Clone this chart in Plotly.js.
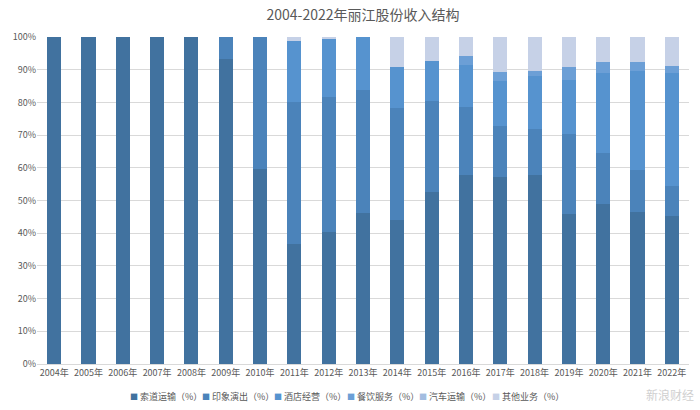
<!DOCTYPE html>
<html>
<head>
<meta charset="utf-8">
<script src="https://cdn.plot.ly/plotly-3.0.1.min.js"></script>
<style>
  html, body { margin: 0; padding: 0; background: #ffffff; }
  #chart { width: 700px; height: 410px; }
</style>
</head>
<body>
<div id="chart"></div>
<script>
// Categories
var years = ["2004年","2005年","2006年","2007年","2008年","2009年","2010年","2011年","2012年","2013年",
             "2014年","2015年","2016年","2017年","2018年","2019年","2020年","2021年","2022年"];

// Series values (%)
var suodao   = [100, 100, 100, 100, 100, 93.3, 59.5, 36.7, 40.3, 46.2, 43.9, 52.6, 57.7, 57.1, 57.7, 45.9, 48.8, 46.5, 45.4];
var yinxiang = [0, 0, 0, 0, 0, 6.7, 40.5, 43.5, 41.5, 37.5, 34.5, 27.9, 20.8, 15.6, 14.3, 24.4, 15.7, 12.7, 9.0];
var jiudian  = [0, 0, 0, 0, 0, 0, 0, 18.6, 17.7, 16.3, 12.5, 12.2, 13.0, 13.9, 16.2, 16.6, 24.6, 30.5, 34.7];
var canyin   = [0, 0, 0, 0, 0, 0, 0, 0, 0, 0, 0, 0, 2.7, 2.8, 1.5, 3.8, 3.3, 2.8, 2.1];
var qiche    = [0, 0, 0, 0, 0, 0, 0, 0, 0, 0, 0, 0, 0, 0, 0, 0, 0, 0, 0];
var qita     = [0, 0, 0, 0, 0, 0, 0, 1.2, 0.5, 0, 9.1, 7.3, 5.8, 10.6, 10.3, 9.3, 7.6, 7.5, 8.8];

var seriesNames = ["索道运输（%）", "印象演出（%）", "酒店经营（%）", "餐饮服务（%）", "汽车运输（%）", "其他业务（%）"];
var seriesData  = [suodao, yinxiang, jiudian, canyin, qiche, qita];
var colors = ["#41729f", "#4b83ba", "#5693cf", "#6c9fd6", "#a3bde0", "#c6d1e7"];

var font = "'Noto Sans CJK SC', 'Noto Sans', sans-serif";
var textColor = "#595959";

var traces = seriesData.map(function (vals, i) {
  return {
    type: "bar",
    name: seriesNames[i],
    x: years,
    y: vals,
    marker: { color: colors[i], line: { width: 0 } },
    hoverinfo: "x+y+name"
  };
});

// Legend drawn as text annotations (one per series)
var legendCenters = [165.5, 237.9, 310.3, 382.7, 455.1, 527.5]; // pixel centers
var plotLeft = 37, plotWidth = 652;
var annotations = seriesNames.map(function (nm, i) {
  return {
    xref: "paper", yref: "paper",
    x: (legendCenters[i] - plotLeft) / plotWidth,
    y: -0.098,
    xanchor: "center", yanchor: "middle",
    showarrow: false,
    text: '<span style="color:' + colors[i] + ';font-size:8px">■</span> ' + nm,
    font: { family: font, size: 9, color: textColor }
  };
});
annotations.push({
  xref: "paper", yref: "paper",
  x: 1.01, y: -0.092,
  xanchor: "right", yanchor: "middle",
  showarrow: false,
  text: "新浪财经",
  font: { family: font, size: 12, color: "#d0d0d0" }
});

var layout = {
  width: 700,
  height: 410,
  margin: { l: 37, r: 11, t: 37, b: 46 },
  paper_bgcolor: "#ffffff",
  plot_bgcolor: "#ffffff",
  barmode: "stack",
  bargap: 0.59,
  showlegend: false,
  title: {
    text: "2004-2022年丽江股份收入结构",
    x: 0.5, xref: "paper",
    y: 0.963, yref: "container",
    xanchor: "center", yanchor: "middle",
    font: { family: font, size: 14, color: textColor }
  },
  xaxis: {
    type: "category",
    tickfont: { family: font, size: 9, color: textColor },
    showgrid: false,
    showline: true,
    linecolor: "#d9d9d9",
    linewidth: 1,
    ticks: "",
    fixedrange: true
  },
  yaxis: {
    range: [0, 100],
    dtick: 10,
    ticksuffix: "%",
    tickfont: { family: font, size: 9, color: textColor },
    showgrid: true,
    gridcolor: "#d9d9d9",
    gridwidth: 1,
    zeroline: false,
    showline: false,
    ticks: "",
    fixedrange: true
  },
  annotations: annotations,
  font: { family: font, color: textColor }
};

Plotly.newPlot("chart", traces, layout, { displayModeBar: false, staticPlot: true });
</script>
</body>
</html>
